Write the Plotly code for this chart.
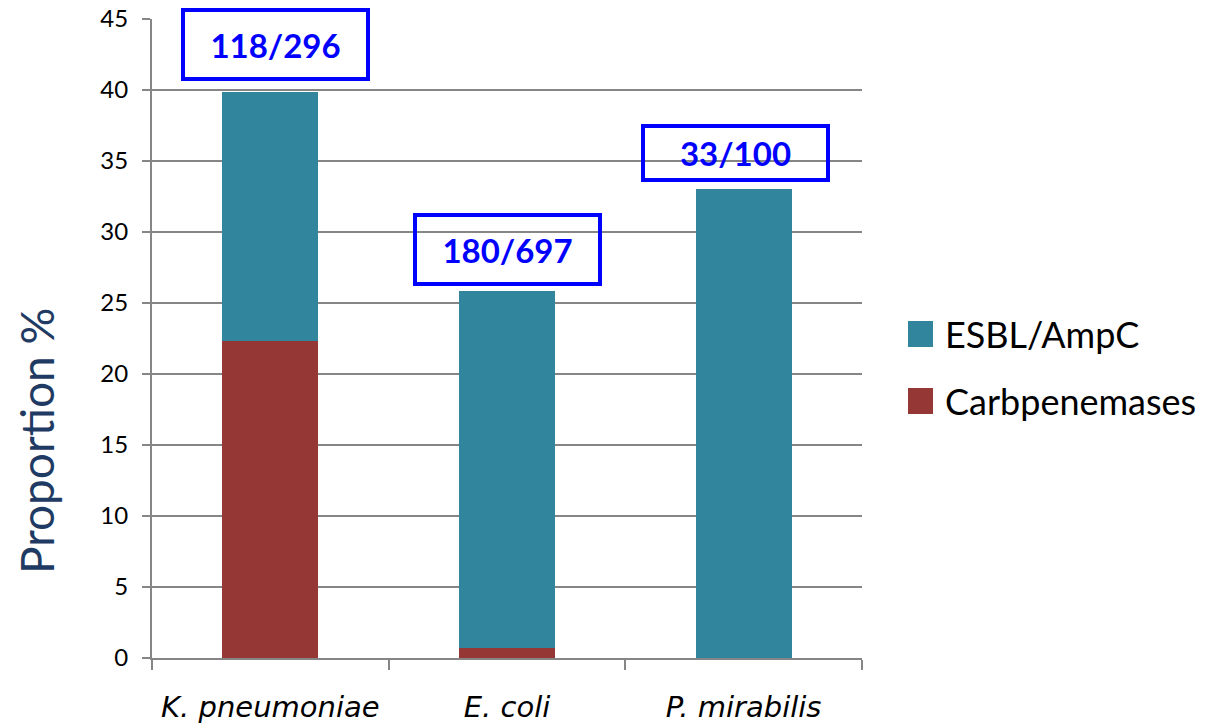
import plotly.graph_objects as go

# Share of resistant isolates per species (%)
species = ["K. pneumoniae", "E. coli", "P. mirabilis"]
carbapenemases = [22.3, 0.7, 0.0]
esbl_ampc = [17.56, 25.12, 33.0]
counts = ["118/296", "180/697", "33/100"]

TEAL = "#31859C"
RED = "#953735"
GRID = "#868686"
BLUE = "#0000FF"

tick_labels = [f"<i>{s}</i>" for s in species]

fig = go.Figure()
fig.add_bar(x=species, y=carbapenemases, name="Carbpenemases",
            marker=dict(color=RED, line=dict(width=0)), showlegend=False)
fig.add_bar(x=species, y=esbl_ampc, name="ESBL/AmpC",
            marker=dict(color=TEAL, line=dict(width=0)), showlegend=False)

totals = [c + e for c, e in zip(carbapenemases, esbl_ampc)]

# Boxed count labels above each bar
box_style = [
    dict(xshift=5, yshift=11, height=59),
    dict(xshift=0, yshift=5, height=59),
    dict(xshift=-8, yshift=7, height=44),
]
for sp, tot, txt, st in zip(species, totals, counts, box_style):
    fig.add_annotation(
        x=sp, y=tot, xref="x", yref="y", text=f"<b>{txt}</b>",
        showarrow=False, xanchor="center", yanchor="bottom",
        xshift=st["xshift"], yshift=st["yshift"],
        width=175, height=st["height"], align="center", valign="middle",
        bordercolor=BLUE, borderwidth=4, borderpad=3,
        font=dict(family="Lato", size=33, color=BLUE),
    )

# Legend drawn beside the plot
PLOT_L, PLOT_W, PLOT_B, PLOT_H = 152, 710, 658, 639
legend_items = [("ESBL/AmpC", TEAL), ("Carbpenemases", RED)]
for i, (label, col) in enumerate(legend_items):
    cy = 334 + i * 67
    fig.add_shape(type="rect", xref="paper", yref="paper",
                  x0=(908 - PLOT_L) / PLOT_W, x1=(933 - PLOT_L) / PLOT_W,
                  y0=(PLOT_B - (cy + 13)) / PLOT_H, y1=(PLOT_B - (cy - 13)) / PLOT_H,
                  fillcolor=col, line=dict(width=0))
    fig.add_annotation(text=label, xref="paper", yref="paper",
                       x=(943 - PLOT_L) / PLOT_W, y=(PLOT_B - cy) / PLOT_H,
                       xanchor="left", yanchor="middle", showarrow=False,
                       font=dict(family="Lato", size=36, color="black"))

# Axis title
fig.add_annotation(text="Proportion %", xref="paper", yref="paper",
                   x=0, y=(PLOT_B - 441) / PLOT_H, xshift=-116,
                   xanchor="center", yanchor="middle", textangle=-90,
                   showarrow=False,
                   font=dict(family="Lato", size=46, color="#1F3B63"))

fig.update_layout(
    width=1221, height=725,
    margin=dict(l=152, r=359, t=19, b=67, pad=0),
    barmode="stack", bargap=0.595,
    plot_bgcolor="white", paper_bgcolor="white",
    showlegend=False,
)
fig.update_yaxes(
    range=[0, 45], dtick=5, tick0=0, automargin=False,
    showgrid=True, gridcolor=GRID, gridwidth=2,
    showline=True, linecolor=GRID, linewidth=2,
    ticks="outside", ticklen=8, tickwidth=2, tickcolor=GRID,
    ticklabelstandoff=9,
    tickfont=dict(family="Lato", size=24, color="black"),
    zeroline=False,
)
fig.update_xaxes(
    tickmode="array", tickvals=species, ticktext=tick_labels,
    tickson="boundaries", automargin=False,
    showline=True, linecolor=GRID, linewidth=2,
    ticks="outside", ticklen=10, tickwidth=2, tickcolor=GRID,
    ticklabelstandoff=22,
    tickfont=dict(family="DejaVu Sans", size=29, color="black"),
    showgrid=False,
)

fig.write_html("out.html")
